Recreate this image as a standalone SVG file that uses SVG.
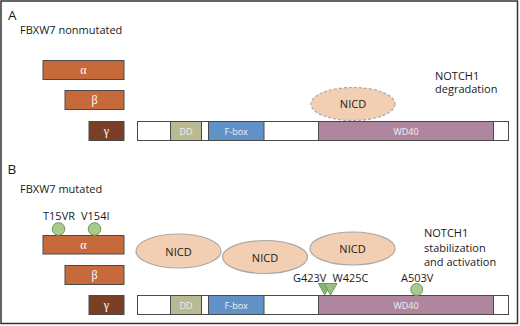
<svg xmlns="http://www.w3.org/2000/svg" width="520" height="326" viewBox="0 0 520 326">
<style>
.t{font-family:"Open Sans","Liberation Sans",sans-serif;fill:#1a1a1a;font-size:11px}
.lbl{font-family:"Open Sans","Liberation Sans",sans-serif;font-size:13.5px;fill:#1a1a1a}
.g{font-family:"Liberation Serif",serif;font-size:12px;fill:#ffffff;text-anchor:middle}
.d{font-family:"Open Sans","Liberation Sans",sans-serif;font-size:9px;fill:#f0f0f0;text-anchor:middle}
.bar{stroke:#4a4a4a;stroke-width:1}
.a{fill:#c66a3b}
.c{fill:#7a3f27}
.w{fill:#ffffff}
.dd{fill:#b9b994}
.fb{fill:#6092c8}
.wd{fill:#ae879f}
.nicd{fill:#f2cfb3;stroke:#a8a8a8;stroke-width:1.2}
.dash{stroke-dasharray:3,2}
.mut{fill:#a9c98f;stroke:#6f9c56;stroke-width:1}
.tri{fill:#8db273;stroke:#6f9c56;stroke-width:1}
</style>
<rect x="1" y="1" width="516.5" height="322.5" fill="#ffffff" stroke="#333" stroke-width="1.5"/>

<!-- Panel A -->
<text class="lbl" x="8" y="19.5">A</text>
<text class="t" x="20" y="33.5">FBXW7 nonmutated</text>

<g id="a-alpha"><rect class="bar a" x="43" y="60.5" width="81" height="19"/><text class="g" x="83.5" y="74">α</text></g>
<g id="a-beta"><rect class="bar a" x="65" y="90.5" width="59" height="19"/><text class="g" x="94.5" y="104">β</text></g>
<g id="a-gamma"><rect class="bar c" x="89" y="121.5" width="35" height="19"/><text class="g" x="106.5" y="135">γ</text></g>

<g id="a-domain">
<rect class="bar w" x="137.5" y="121.5" width="371" height="19"/>
<rect class="bar dd" x="170.5" y="121.5" width="31" height="19"/><text class="d" x="186" y="134.5">DD</text>
<rect class="bar fb" x="208.5" y="121.5" width="55.5" height="19"/><text class="d" x="236.2" y="134.5">F-box</text>
<rect class="bar wd" x="318.5" y="121.5" width="175" height="19"/><text class="d" x="406" y="134.5">WD40</text>
</g>

<g id="a-nicd"><ellipse class="nicd dash" cx="353" cy="104" rx="42" ry="16.5"/><text class="t" x="353" y="108" text-anchor="middle">NICD</text></g>
<g id="a-note"><text class="t" x="435" y="79.5">NOTCH1</text><text class="t" x="435" y="93">degradation</text></g>

<!-- Panel B -->
<text class="lbl" x="7.5" y="174">B</text>
<text class="t" x="20" y="192.5">FBXW7 mutated</text>

<g id="b-alpha"><rect class="bar a" x="43" y="235.5" width="81" height="18.5"/><text class="g" x="83.5" y="249">α</text></g>
<g id="b-beta"><rect class="bar a" x="65" y="265.5" width="59" height="19"/><text class="g" x="94.5" y="279">β</text></g>
<g id="b-gamma"><rect class="bar c" x="89" y="295.5" width="35" height="19"/><text class="g" x="106.5" y="309">γ</text></g>

<g id="b-domain">
<rect class="bar w" x="137.5" y="295.5" width="371" height="19"/>
<rect class="bar dd" x="170.5" y="295.5" width="31" height="19"/><text class="d" x="186" y="308.5">DD</text>
<rect class="bar fb" x="208.5" y="295.5" width="55.5" height="19"/><text class="d" x="236.2" y="308.5">F-box</text>
<rect class="bar wd" x="318.5" y="295.5" width="175" height="19"/><text class="d" x="406" y="308.5">WD40</text>
</g>

<g id="b-mut-t15vr"><text class="t" x="43" y="220">T15VR</text><circle class="mut" cx="58.5" cy="229" r="6.3"/></g>
<g id="b-mut-v154i"><text class="t" x="81" y="220">V154I</text><circle class="mut" cx="94.5" cy="229" r="6.3"/></g>

<g id="b-nicd1"><ellipse class="nicd" cx="178.5" cy="251" rx="42.5" ry="17"/><text class="t" x="178.5" y="255.5" text-anchor="middle">NICD</text></g>
<g id="b-nicd2"><ellipse class="nicd" cx="265" cy="257" rx="42.5" ry="16.5"/><text class="t" x="265" y="261.5" text-anchor="middle">NICD</text></g>
<g id="b-nicd3"><ellipse class="nicd" cx="352.5" cy="248.5" rx="42.5" ry="16.5"/><text class="t" x="352.5" y="253" text-anchor="middle">NICD</text></g>

<g id="b-note"><text class="t" x="424" y="237">NOTCH1</text><text class="t" x="424" y="251.5">stabilization</text><text class="t" x="424" y="266">and activation</text></g>

<g id="b-mut-g423v"><text class="t" x="293" y="282">G423V</text><polygon class="tri" points="318.5,283.5 331,283.5 324.7,295"/></g>
<g id="b-mut-w425c"><text class="t" x="332.5" y="282">W425C</text><polygon class="tri" points="324,283.5 337,283.5 330.5,295" style="fill:#9cbd84"/></g>
<g id="b-mut-a503v"><text class="t" x="401" y="282">A503V</text><circle class="mut" cx="416.7" cy="289.5" r="6"/></g>
</svg>
